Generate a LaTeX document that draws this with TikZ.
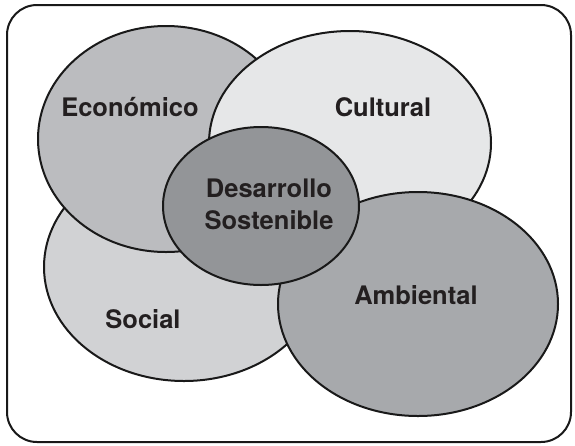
\documentclass[tikz,border=0pt]{standalone}
\usepackage{fontspec}
\setmainfont{TeX Gyre Heros}
\begin{document}
\begin{tikzpicture}[x=1pt,y=-1pt,
  blob/.style={draw=black!90, line width=2pt},
  lbl/.style={font=\fontsize{25.5}{32}\selectfont\bfseries, text=txt, align=center, inner sep=0pt}]
\definecolor{txt}{HTML}{231F20}
\definecolor{cEco}{HTML}{BBBCBF}
\definecolor{cCul}{HTML}{E6E7E8}
\definecolor{cSoc}{HTML}{D1D2D4}
\definecolor{cAmb}{HTML}{A7A9AC}
\definecolor{cDes}{HTML}{939598}
\useasboundingbox (0,0) rectangle (575,445);
\draw[line width=2pt, draw=black!90, rounded corners=30pt] (7,5) rectangle (571,442);
\path[blob, fill=cSoc] (184,267) ellipse [x radius=140, y radius=114];
\path[blob, fill=cEco] (166,139) ellipse [x radius=128, y radius=113];
\path[blob, fill=cCul] (350,143) ellipse [x radius=141, y radius=112];
\path[blob, fill=cAmb] (418,304) ellipse [x radius=140, y radius=112];
\path[blob, fill=cDes] (261,206) ellipse [x radius=98, y radius=79];
\node[lbl] (eco) at (130,107) {Económico};
\node[lbl] (cul) at (383,107) {Cultural};
\node[lbl] (des) at (269,204) {Desarrollo\\Sostenible};
\node[lbl] (soc) at (143,319) {Social};
\node[lbl] (amb) at (416,295) {Ambiental};
\end{tikzpicture}
\end{document}
